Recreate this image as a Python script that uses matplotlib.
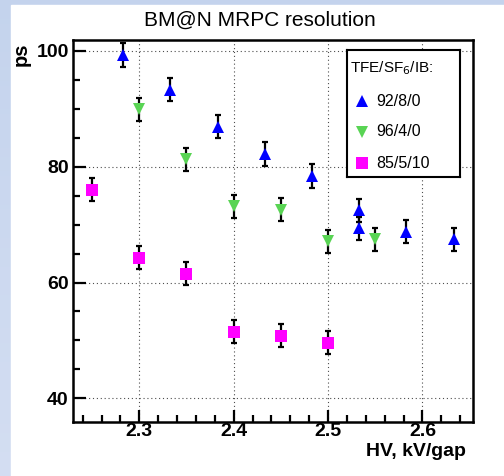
import matplotlib

matplotlib.use("Agg")

import matplotlib.pyplot as plt
import numpy as np
from matplotlib.patches import Rectangle
from matplotlib.ticker import MultipleLocator

plt.rcParams["font.family"] = ["Liberation Sans", "DejaVu Sans"]

# data (HV in kV/gap, resolution in ps)
HV_92 = [2.283, 2.333, 2.383, 2.433, 2.483, 2.533, 2.533, 2.583, 2.633]
PS_92 = [99.3, 93.3, 86.9, 82.2, 78.4, 72.5, 69.4, 68.8, 67.5]
ERR_92 = [2.0, 2.0, 2.0, 2.0, 2.0, 2.0, 2.0, 2.0, 2.0]

HV_96 = [2.30, 2.35, 2.40, 2.45, 2.50, 2.55]
PS_96 = [89.9, 81.3, 73.2, 72.6, 67.1, 67.5]
ERR_96 = [2.0, 2.0, 2.0, 2.0, 2.0, 2.0]

HV_85 = [2.25, 2.30, 2.35, 2.40, 2.45, 2.50]
PS_85 = [76.0, 64.3, 61.5, 51.5, 50.8, 49.6]
ERR_85 = [2.0, 2.0, 2.0, 2.0, 2.0, 2.0]

SERIES = [
    (HV_92, PS_92, ERR_92, "^", "#0000ff", "92/8/0"),
    (HV_96, PS_96, ERR_96, "v", "#59d454", "96/4/0"),
    (HV_85, PS_85, ERR_85, "s", "#ff00ff", "85/5/10"),
]

W, H, DPI = 504, 476, 100

fig = plt.figure(figsize=(W / DPI, H / DPI), dpi=DPI)

# slide background: light blue strip on top and left, a bit paler towards the bottom
top_rgb = np.array([0.77, 0.83, 0.93])
bottom_rgb = np.array([0.83, 0.87, 0.95])
grad = np.linspace(0, 1, 100)[:, None, None] * (bottom_rgb - top_rgb) + top_rgb
bg = fig.add_axes([0, 0, 1, 1], zorder=-10)
bg.imshow(grad, aspect="auto", extent=[0, 1, 0, 1], origin="upper")
bg.add_patch(Rectangle((11 / W, 0), 1, 1 - 5 / H, color="white"))
bg.set_xlim(0, 1)
bg.set_ylim(0, 1)
bg.axis("off")

ax = fig.add_axes([73 / W, 1 - 422 / H, 400 / W, 382 / H])
ax.set_xlim(2.2298, 2.6535)
ax.set_ylim(35.9, 101.9)

ax.grid(True, which="major", color="0.3", lw=0.8, ls=(0, (1, 2.5)))
ax.set_axisbelow(True)

for hv, ps, err, marker, color, label in SERIES:
    ax.errorbar(hv, ps, yerr=err, fmt="none", ecolor="black", elinewidth=1.6,
                capsize=2.2, capthick=1.6, zorder=3)
    ax.plot(hv, ps, ls="none", marker=marker, ms=8.5 if marker != "s" else 8,
            mfc=color, mec=color, mew=0, zorder=4)

for side in ["left", "bottom", "right", "top"]:
    ax.spines[side].set_linewidth(1.8)

ax.xaxis.set_major_locator(MultipleLocator(0.1))
ax.xaxis.set_minor_locator(MultipleLocator(0.02))
ax.yaxis.set_major_locator(MultipleLocator(20))
ax.yaxis.set_minor_locator(MultipleLocator(5))
ax.tick_params(which="both", direction="in", top=False, right=False, width=1.6)
ax.tick_params(which="major", length=9, labelsize=14)
ax.tick_params(axis="x", which="major", pad=1)
ax.tick_params(axis="y", which="major", pad=3)
ax.tick_params(which="minor", length=5)
for lbl in ax.get_xticklabels() + ax.get_yticklabels():
    lbl.set_fontweight("bold")

fig.text(260 / W, 1 - 20 / H, "BM@N MRPC resolution", ha="center", va="center", fontsize=15)
fig.text(21 / W, 1 - 54 / H, "ps", ha="center", va="center", rotation=90,
         fontsize=14.5, fontweight="bold")
fig.text(466 / W, 1 - 452 / H, "HV, kV/gap", ha="right", va="center",
         fontsize=14, fontweight="bold")

# legend box
leg = fig.add_axes([347 / W, 1 - 177 / H, 113 / W, 127 / H], zorder=5)
leg.set_xlim(0, 113)
leg.set_ylim(127, 0)
leg.set_xticks([])
leg.set_yticks([])
for side in leg.spines.values():
    side.set_linewidth(1.5)
leg.text(3, 18, r"TFE/SF$_6$/IB:", ha="left", va="center", fontsize=11)
for i, (hv, ps, err, marker, color, label) in enumerate(SERIES):
    y = 51 + i * 31
    leg.plot([15], [y], ls="none", marker=marker, ms=8.5 if marker != "s" else 8,
             mfc=color, mec=color, mew=0)
    leg.text(29, y, label, ha="left", va="center", fontsize=11.5)

fig.savefig("out.png", dpi=DPI)
